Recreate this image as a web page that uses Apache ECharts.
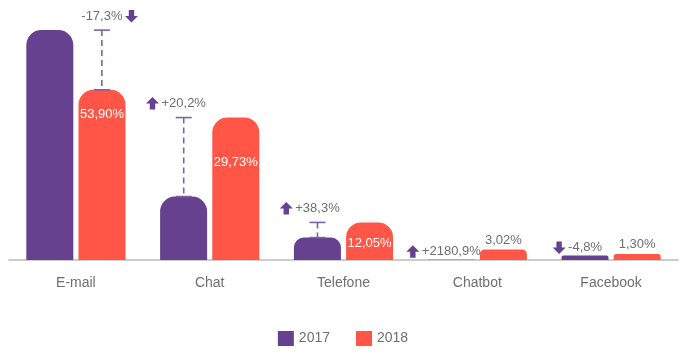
<!DOCTYPE html>
<html>
<head>
<meta charset="utf-8">
<script src="https://cdn.jsdelivr.net/npm/echarts@6/dist/echarts.min.js"></script>
<style>
  html, body { margin: 0; padding: 0; background: #fff; }
  #chart { width: 686px; height: 354px; }
</style>
</head>
<body>
<div id="chart"></div>
<script>
const categories = ['E-mail', 'Chat', 'Telefone', 'Chatbot', 'Facebook'];
// bar heights as they are drawn in the picture (one shared scale)
const bars2017 = [72.8, 20.1, 7.1, 0.1, 1.4];
const bars2018 = [53.9, 45.1, 11.9, 3.3, 1.9];
// printed labels
const labels2018 = ['53,90%', '29,73%', '12,05%', '3,02%', '1,30%'];
const changeLabels = ['-17,3%', '+20,2%', '+38,3%', '+2180,9%', '-4,8%'];

const PURPLE = '#65418f';
const RED = '#ff5648';
const DASH = '#7e62a4';
const GREY = '#6f6f6f';
const FONT = '"Liberation Sans", Arial, sans-serif';

const barWidth = 47;
const barShift = 26;
// where the white label sits inside the 2018 bars (px below the top)
const insideDrop = [18, 38, 15];
// only the e-mail arrow sits right of its text
const arrowRight = [true, false, false, false, false];

const ctx = document.createElement('canvas').getContext('2d');
ctx.font = '13px ' + FONT;
const textWidth = (t) => ctx.measureText(t).width;

const arrowPoints = (cx, cy, up) => {
    const s = up ? 1 : -1;
    return [
        [cx, cy - 6.5 * s],
        [cx + 6.5, cy],
        [cx + 2.7, cy],
        [cx + 2.7, cy + 6 * s],
        [cx - 2.7, cy + 6 * s],
        [cx - 2.7, cy],
        [cx - 6.5, cy]
    ];
};

const renderChange = (params, api) => {
    const i = api.value(0);
    const a = api.value(1);
    const b = api.value(2);
    const x0 = api.coord([i, 0])[0];
    const x = x0 + (a <= b ? -barShift : barShift);
    const yLow = api.coord([i, Math.min(a, b)])[1];
    const yHigh = api.coord([i, Math.max(a, b)])[1];
    const children = [];
    let ty;
    if (yLow - yHigh > 12) {
        children.push({
            type: 'line',
            shape: { x1: x, y1: yHigh, x2: x, y2: yLow },
            style: { stroke: DASH, lineWidth: 1.6, lineDash: [6, 4] }
        });
        [yHigh, yLow].forEach((y) => {
            children.push({
                type: 'line',
                shape: { x1: x - 8, y1: y, x2: x + 8, y2: y },
                style: { stroke: DASH, lineWidth: 1.6 }
            });
        });
        ty = yHigh - 14;
    } else {
        ty = yLow - 8;
    }
    const txt = changeLabels[i];
    const w = textWidth(txt);
    children.push({
        type: 'text',
        style: {
            text: txt, x: x, y: ty, align: 'center', verticalAlign: 'middle',
            fontSize: 13, fontFamily: FONT, fill: GREY
        }
    });
    const ax = arrowRight[i] ? x + w / 2 + 9 : x - w / 2 - 9;
    children.push({
        type: 'polygon',
        shape: { points: arrowPoints(ax, ty, txt[0] === '+') },
        style: { fill: PURPLE }
    });
    return { type: 'group', children: children };
};

const radiusFor = (v) => {
    const r = Math.min(15, v * 1.4);
    return [r, r, 0, 0];
};

const data2017 = bars2017.map((v) => ({ value: v, itemStyle: { borderRadius: radiusFor(v) } }));
const data2018 = bars2018.map((v, i) => {
    const inside = i < insideDrop.length;
    return {
        value: v,
        itemStyle: { borderRadius: radiusFor(v) },
        label: inside
            ? { position: 'insideTop', distance: insideDrop[i], color: '#fff' }
            : { position: 'top', distance: 3, color: GREY }
    };
});

const chart = echarts.init(document.getElementById('chart'));

chart.setOption({
    animation: false,
    textStyle: { fontFamily: FONT },
    grid: { left: 9, right: 8, top: 20, bottom: 94 },
    legend: {
        data: ['2017', '2018'],
        bottom: 3,
        icon: 'rect',
        itemWidth: 16,
        itemHeight: 15,
        itemGap: 26,
        textStyle: { fontSize: 14, color: GREY, fontFamily: FONT }
    },
    xAxis: {
        type: 'category',
        data: categories,
        axisLine: { lineStyle: { color: '#cccccc', width: 2 } },
        axisTick: { show: false },
        axisLabel: { fontSize: 14, color: GREY, margin: 16, fontFamily: FONT }
    },
    yAxis: {
        type: 'value',
        min: 0,
        max: 76,
        show: false,
        splitLine: { show: false }
    },
    series: [
        {
            name: '2017',
            type: 'bar',
            barWidth: barWidth,
            barGap: '11%',
            itemStyle: { color: PURPLE },
            data: data2017
        },
        {
            name: '2018',
            type: 'bar',
            barWidth: barWidth,
            itemStyle: { color: RED },
            label: {
                show: true,
                fontSize: 13,
                fontFamily: FONT,
                formatter: (p) => labels2018[p.dataIndex]
            },
            data: data2018
        },
        {
            type: 'custom',
            z: 5,
            renderItem: renderChange,
            encode: { x: 0, y: [1, 2] },
            data: categories.map((c, i) => [i, bars2017[i], bars2018[i]])
        }
    ]
});
</script>
</body>
</html>
